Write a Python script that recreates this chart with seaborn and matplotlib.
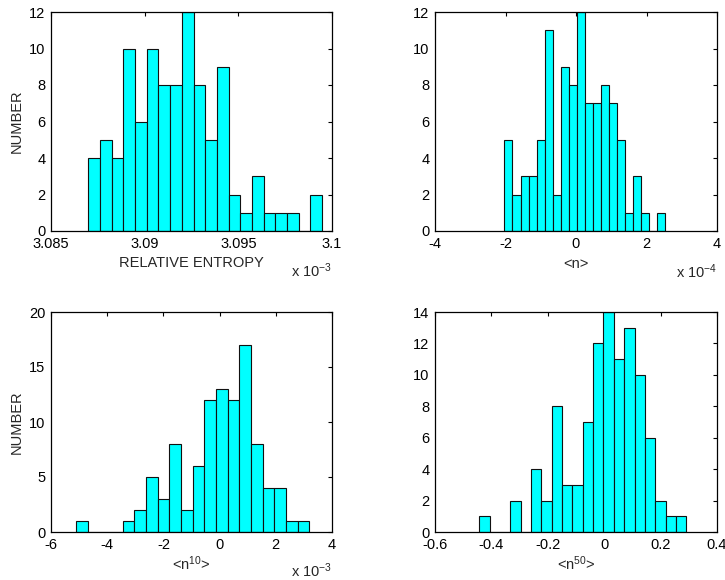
import numpy as np
import pandas as pd
import matplotlib
matplotlib.use('Agg')
import matplotlib.pyplot as plt
import seaborn as sns

# histogram counts (20 bins each)
entropy_counts = [4, 5, 4, 10, 6, 10, 8, 8, 12, 8, 5, 9, 2, 1, 3, 1, 1, 1, 0, 2]
entropy_start, entropy_width = 3.0870, 0.000623   # x 10^-3

n1_counts = [5, 2, 3, 3, 5, 11, 2, 9, 8, 12, 7, 7, 8, 7, 5, 1, 3, 1, 0, 1]
n1_start, n1_width = -2.03, 0.228                  # x 10^-4

n10_counts = [1, 0, 0, 0, 1, 2, 5, 3, 8, 2, 6, 12, 13, 12, 17, 8, 4, 4, 1, 1]
n10_start, n10_width = -5.11, 0.415                # x 10^-3

n50_counts = [1, 0, 0, 2, 0, 4, 2, 8, 3, 3, 7, 12, 14, 11, 13, 10, 6, 2, 1, 1]
n50_start, n50_width = -0.443, 0.0367

entropy_ticks = [3.085, 3.09, 3.095, 3.1]
entropy_ticklabels = ['3.085', '3.09', '3.095', '3.1']

sns.set_style('white')
plt.rcParams['font.family'] = ['Liberation Sans', 'DejaVu Sans']
plt.rcParams['mathtext.fontset'] = 'custom'
plt.rcParams['mathtext.rm'] = 'Liberation Sans'
plt.rcParams['mathtext.it'] = 'Liberation Sans'
plt.rcParams['axes.unicode_minus'] = False
FS = 10.5
plt.rcParams['font.size'] = FS

fig = plt.figure(figsize=(7.25, 5.8), dpi=100)

W, H = 725., 580.
def axes_at(l, t, r, b):
    return fig.add_axes([l / W, 1 - b / H, (r - l) / W, (b - t) / H])

ax1 = axes_at(51, 12, 332, 231)
ax2 = axes_at(435, 12, 717, 231)
ax3 = axes_at(51, 312, 332, 532)
ax4 = axes_at(435, 312, 717, 532)


def draw(ax, counts, start, width):
    edges = start + width * np.arange(len(counts) + 1)
    df = pd.DataFrame({'x': edges[:-1] + width / 2, 'n': counts})
    sns.histplot(data=df, x='x', weights='n', bins=edges.tolist(), ax=ax,
                 color='#00ffff', edgecolor='#111111', linewidth=0.8, alpha=1)
    ax.set_ylabel('')
    ax.set_xlabel('')
    for s in ax.spines.values():
        s.set_visible(True)
        s.set_color('black')
        s.set_linewidth(0.9)
    ax.tick_params(direction='in', top=True, right=True, length=3,
                   width=0.8, pad=4, labelsize=FS, colors='black')


draw(ax1, entropy_counts, entropy_start, entropy_width)
ax1.set_xlim(3.085, 3.1)
ax1.set_xticks(entropy_ticks)
ax1.set_xticklabels(entropy_ticklabels)
ax1.set_ylim(0, 12)
ax1.set_yticks(range(0, 13, 2))
ax1.set_xlabel('RELATIVE ENTROPY', labelpad=4)
ax1.set_ylabel('NUMBER')
ax1.yaxis.set_label_coords(-27 / 281, 0.5)
ax1.text(1.0, -0.18, r'x 10$^{-3}$', transform=ax1.transAxes,
         ha='right', va='center', fontsize=FS)

draw(ax2, n1_counts, n1_start, n1_width)
ax2.set_xlim(-4, 4)
ax2.set_xticks([-4, -2, 0, 2, 4])
ax2.set_ylim(0, 12)
ax2.set_yticks(range(0, 13, 2))
ax2.set_xlabel('<n>', labelpad=5)
ax2.text(1.0, -0.185, r'x 10$^{-4}$', transform=ax2.transAxes,
         ha='right', va='center', fontsize=FS)

draw(ax3, n10_counts, n10_start, n10_width)
ax3.set_xlim(-6, 4)
ax3.set_xticks([-6, -4, -2, 0, 2, 4])
ax3.set_ylim(0, 20)
ax3.set_yticks(range(0, 21, 5))
ax3.set_xlabel(r'<n$^{10}$>', labelpad=2)
ax3.set_ylabel('NUMBER')
ax3.yaxis.set_label_coords(-27 / 281, 0.5)
ax3.text(1.0, -0.175, r'x 10$^{-3}$', transform=ax3.transAxes,
         ha='right', va='center', fontsize=FS)

draw(ax4, n50_counts, n50_start, n50_width)
ax4.set_xlim(-0.6, 0.4)
ax4.set_xticks([-0.6, -0.4, -0.2, 0, 0.2, 0.4])
ax4.set_xticklabels(['-0.6', '-0.4', '-0.2', '0', '0.2', '0.4'])
ax4.set_ylim(0, 14)
ax4.set_yticks(range(0, 15, 2))
ax4.set_xlabel(r'<n$^{50}$>', labelpad=2)

fig.savefig('out.png', dpi=100)
